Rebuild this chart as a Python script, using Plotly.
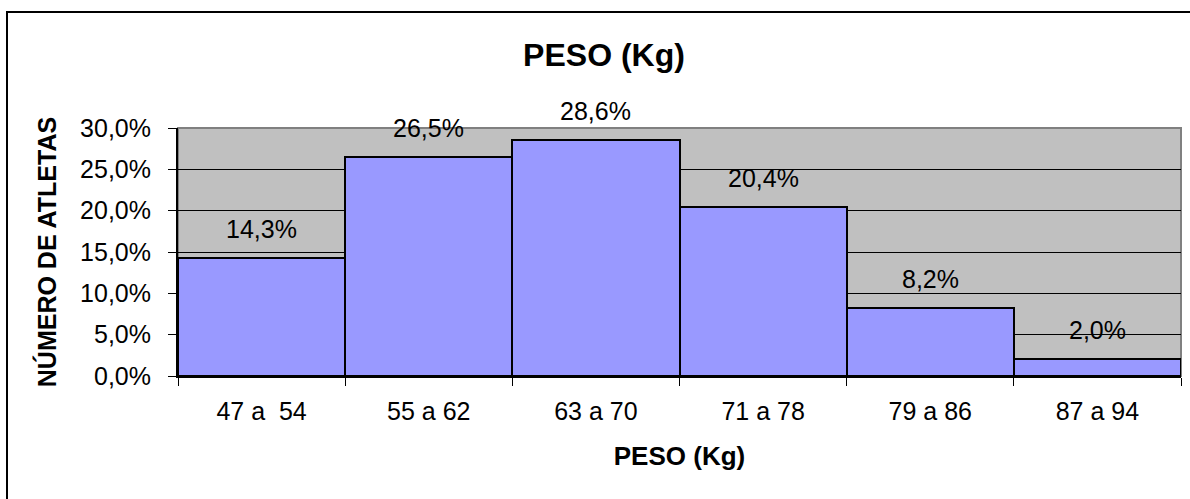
import plotly.graph_objects as go

# Weight classes (kg) and share of athletes in each class
categories = ["47 a\u00a0 54", "55 a 62", "63 a 70", "71 a 78", "79 a 86", "87 a 94"]
shares = [0.143, 0.265, 0.286, 0.204, 0.082, 0.020]
y_ticks = [0.0, 0.05, 0.10, 0.15, 0.20, 0.25, 0.30]

W, H = 1190, 499
L, R, T, B = 178, 9, 128, 123
pw, ph = W - L - R, H - T - B

FONT = "Liberation Sans, Arial, sans-serif"

fig = go.Figure(
    go.Bar(
        x=categories,
        y=shares,
        marker=dict(color="#9999FF", line=dict(color="black", width=2)),
        width=1.0,
        hoverinfo="skip",
    )
)

# value labels above each bar
for c, v in zip(categories, shares):
    fig.add_annotation(
        x=c, y=v, text=f"{v * 100:.1f}%".replace(".", ","),
        showarrow=False, yanchor="middle", yshift=29,
        font=dict(family=FONT, size=25, color="black"),
    )

# outer chart frame
def px_x(p):
    return (p - L) / pw

def px_y(p):
    return (H - B - p) / ph

fig.add_shape(
    type="rect", xref="paper", yref="paper",
    x0=px_x(7), x1=px_x(W + 10), y0=px_y(12), y1=px_y(H + 10),
    line=dict(color="black", width=2), fillcolor="rgba(0,0,0,0)", layer="above",
)
# plot-area border (grey, right and top)
fig.add_shape(
    type="rect", xref="paper", yref="paper", x0=0, x1=1, y0=0, y1=1,
    line=dict(color="#808080", width=2), fillcolor="rgba(0,0,0,0)", layer="below",
)

fig.update_layout(
    width=W, height=H,
    margin=dict(l=L, r=R, t=T, b=B, pad=0),
    paper_bgcolor="white",
    plot_bgcolor="#C0C0C0",
    separators=",.",
    bargap=0,
    showlegend=False,
    font=dict(family=FONT, size=25, color="black"),
    title=dict(
        text="<b>PESO (Kg)</b>",
        font=dict(family=FONT, size=32, color="black"),
        xref="container", yref="container",
        x=604 / W, xanchor="center",
        y=1 - 55 / H, yanchor="middle",
    ),
    xaxis=dict(
        type="category",
        showgrid=False,
        showline=True, linecolor="black", linewidth=2,
        ticks="outside", tickson="boundaries", ticklen=8, tickcolor="black", tickwidth=1,
        tickfont=dict(family=FONT, size=25, color="black"),
        ticklabelstandoff=12,
        title=dict(text="<b>PESO (Kg)</b>", font=dict(family=FONT, size=26, color="black"), standoff=23),
        range=[-0.5, 5.5],
        fixedrange=True,
    ),
    yaxis=dict(
        range=[0, 0.30],
        tickvals=y_ticks,
        tickformat=".1%",
        showgrid=True, gridcolor="black", gridwidth=1,
        showline=True, linecolor="black", linewidth=2,
        ticks="outside", ticklen=8, tickcolor="black", tickwidth=1,
        tickfont=dict(family=FONT, size=25, color="black"),
        ticklabelstandoff=12,
        zeroline=False,
        title=dict(text="<b>NÚMERO DE ATLETAS</b>", font=dict(family=FONT, size=25, color="black"), standoff=16),
        fixedrange=True,
    ),
)

fig.write_html("out.html")
